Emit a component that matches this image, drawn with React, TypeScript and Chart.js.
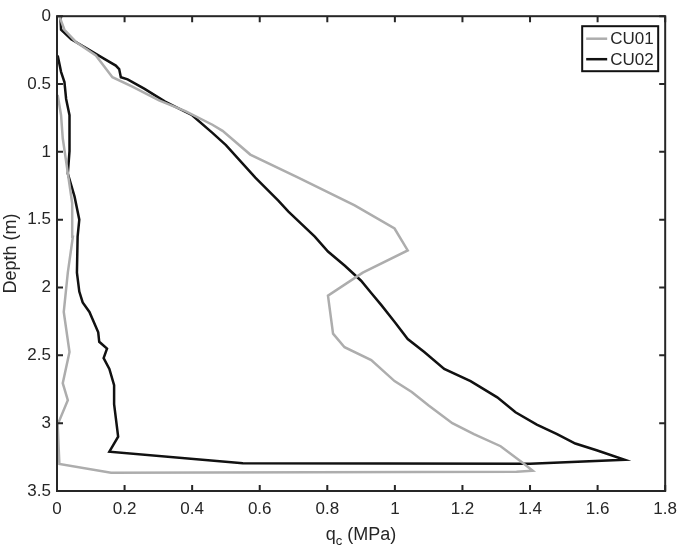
import { useEffect, useRef } from "react";
import { Chart, registerables } from "chart.js";

Chart.register(...registerables);

// ---- Data (q_c in MPa, depth in m), traced in path order ----
const cu01Qc = [
  0.007, 0.022, 0.056, 0.115, 0.164, 0.223, 0.302, 0.38, 0.46, 0.49, 0.572, 0.714, 0.881, 0.999, 1.038,
  0.905, 0.802, 0.817, 0.851, 0.93, 0.999, 1.05, 1.1, 1.17, 1.234, 1.313, 1.377, 1.408, 1.36, 0.16,
  0.007, 0.002, 0.032, 0.017, 0.037, 0.02, 0.032, 0.047, 0.045, 0.027, 0.017, 0.012, 0.002,
];
const cu01Depth = [
  0.0, 0.1, 0.19, 0.29, 0.45, 0.52, 0.62, 0.7, 0.8, 0.845, 1.02, 1.19, 1.395, 1.565, 1.727,
  1.89, 2.06, 2.34, 2.44, 2.535, 2.69, 2.77, 2.87, 3.0, 3.08, 3.17, 3.29, 3.35, 3.358, 3.365,
  3.3, 3.01, 2.83, 2.705, 2.475, 2.18, 1.89, 1.625, 1.38, 1.07, 0.9, 0.73, 0.58,
];
const cu02Qc = [
  0.01, 0.012, 0.042, 0.09, 0.14, 0.174, 0.184, 0.189, 0.209, 0.258, 0.32, 0.4, 0.46, 0.5, 0.587,
  0.655, 0.685, 0.763, 0.802, 0.852, 0.9, 0.93, 0.96, 1.0, 1.038, 1.087, 1.146, 1.224, 1.303, 1.357,
  1.42, 1.48, 1.534, 1.597, 1.68, 1.4, 0.55, 0.155, 0.181, 0.169, 0.169, 0.155, 0.138, 0.148, 0.125,
  0.122, 0.096, 0.076, 0.066, 0.059, 0.061, 0.066, 0.052, 0.032, 0.037, 0.037, 0.027, 0.022, 0.012, 0.002,
];
const cu02Depth = [
  0.0, 0.1, 0.17, 0.24, 0.315, 0.364, 0.39, 0.45, 0.466, 0.534, 0.63, 0.73, 0.86, 0.95, 1.19,
  1.36, 1.44, 1.625, 1.735, 1.84, 1.95, 2.04, 2.13, 2.256, 2.38, 2.475, 2.6, 2.69, 2.81, 2.92,
  3.01, 3.08, 3.15, 3.2, 3.27, 3.3, 3.295, 3.21, 3.1, 2.86, 2.72, 2.6, 2.52, 2.45, 2.4,
  2.33, 2.18, 2.11, 2.03, 1.89, 1.625, 1.5, 1.33, 1.16, 0.995, 0.73, 0.61, 0.485, 0.41, 0.29,
];

const seriesLabels = ["CU01", "CU02"];
const seriesColors = ["#adadad", "#111111"];
const xTicks = [0, 0.2, 0.4, 0.6, 0.8, 1, 1.2, 1.4, 1.6, 1.8];
const yTicks = [0, 0.5, 1, 1.5, 2, 2.5, 3, 3.5];
const yTitle = "Depth (m)";
const xTitleMain = "q";
const xTitleSub = "c";
const xTitleRest = " (MPa)";

const FONT = "'Liberation Sans', Arial, Helvetica, sans-serif";
const AXIS = "#262626";

const toPoints = (xs: number[], ys: number[]) => xs.map((x, i) => ({ x, y: ys[i] }));

const framePlugin = {
  id: "matlabFrame",
  afterDraw(chart: any) {
    const { ctx, chartArea } = chart;
    const { left, right, top, bottom } = chartArea;
    const xs = chart.scales.x;
    const ys = chart.scales.y;
    ctx.save();
    ctx.strokeStyle = AXIS;
    ctx.lineWidth = 2;
    ctx.strokeRect(left, top, right - left, bottom - top);
    ctx.beginPath();
    xs.ticks.forEach((t: any) => {
      const px = xs.getPixelForValue(t.value);
      ctx.moveTo(px, bottom);
      ctx.lineTo(px, bottom - 6);
      ctx.moveTo(px, top);
      ctx.lineTo(px, top + 6);
    });
    ys.ticks.forEach((t: any) => {
      const py = ys.getPixelForValue(t.value);
      ctx.moveTo(left, py);
      ctx.lineTo(left + 6, py);
      ctx.moveTo(right, py);
      ctx.lineTo(right - 6, py);
    });
    ctx.stroke();

    // x-axis title with subscript
    ctx.fillStyle = AXIS;
    ctx.textBaseline = "alphabetic";
    ctx.textAlign = "left";
    const mainFont = `18px ${FONT}`;
    const subFont = `13px ${FONT}`;
    ctx.font = mainFont;
    const w1 = ctx.measureText(xTitleMain).width;
    const w3 = ctx.measureText(xTitleRest).width;
    ctx.font = subFont;
    const w2 = ctx.measureText(xTitleSub).width;
    const total = w1 + w2 + w3;
    let tx = (left + right) / 2 - total / 2;
    const baseY = 540;
    ctx.font = mainFont;
    ctx.fillText(xTitleMain, tx, baseY);
    tx += w1;
    ctx.font = subFont;
    ctx.fillText(xTitleSub, tx, baseY + 5);
    tx += w2;
    ctx.font = mainFont;
    ctx.fillText(xTitleRest, tx, baseY);

    // legend box
    const bw = 76;
    const bh = 45;
    const bx = right - 7 - bw;
    const by = top + 10;
    ctx.fillStyle = "#ffffff";
    ctx.fillRect(bx, by, bw, bh);
    ctx.strokeStyle = "#111111";
    ctx.lineWidth = 2;
    ctx.strokeRect(bx, by, bw, bh);
    ctx.font = `17px ${FONT}`;
    ctx.textBaseline = "middle";
    chart.data.datasets.forEach((ds: any, i: number) => {
      const ly = by + 12.5 + i * 20.5;
      ctx.strokeStyle = ds.borderColor;
      ctx.lineWidth = 2.5;
      ctx.beginPath();
      ctx.moveTo(bx + 4, ly);
      ctx.lineTo(bx + 25, ly);
      ctx.stroke();
      ctx.fillStyle = AXIS;
      ctx.fillText(ds.label, bx + 28, ly + 1);
    });
    ctx.restore();
  },
};

export default function App() {
  const ref = useRef<HTMLCanvasElement | null>(null);
  useEffect(() => {
    if (!ref.current) return;
    const chart = new Chart(ref.current, {
      type: "scatter",
      data: {
        datasets: [
          {
            label: seriesLabels[0],
            data: toPoints(cu01Qc, cu01Depth),
            showLine: true,
            borderColor: seriesColors[0],
            backgroundColor: seriesColors[0],
            borderWidth: 2.5,
            pointRadius: 0,
            tension: 0,
          },
          {
            label: seriesLabels[1],
            data: toPoints(cu02Qc, cu02Depth),
            showLine: true,
            borderColor: seriesColors[1],
            backgroundColor: seriesColors[1],
            borderWidth: 2.5,
            pointRadius: 0,
            tension: 0,
          },
        ],
      },
      options: {
        responsive: false,
        animation: false,
        devicePixelRatio: 1,
        layout: { padding: { top: 10, right: 16, left: 0, bottom: 0 } },
        plugins: { legend: { display: false }, tooltip: { enabled: false } },
        scales: {
          x: {
            type: "linear",
            min: 0,
            max: 1.8,
            grid: { display: false, drawTicks: false },
            border: { display: false },
            afterBuildTicks: (s: any) => {
              s.ticks = xTicks.map((v) => ({ value: v }));
            },
            afterFit: (s: any) => {
              s.height = 58;
            },
            ticks: {
              padding: 8,
              color: AXIS,
              font: { family: FONT, size: 17 },
              maxRotation: 0,
              callback: (v: any) => String(Number(Number(v).toFixed(1))),
            },
          },
          y: {
            type: "linear",
            reverse: true,
            min: 0,
            max: 3.5,
            grid: { display: false, drawTicks: false },
            border: { display: false },
            afterBuildTicks: (s: any) => {
              s.ticks = yTicks.map((v) => ({ value: v }));
            },
            afterFit: (s: any) => {
              s.width = 57;
            },
            ticks: {
              padding: 6,
              color: AXIS,
              font: { family: FONT, size: 17 },
              callback: (v: any) => String(Number(Number(v).toFixed(1))),
            },
            title: {
              display: true,
              text: yTitle,
              color: AXIS,
              font: { family: FONT, size: 18 },
              padding: 0,
            },
          },
        },
      },
      plugins: [framePlugin],
    });
    return () => chart.destroy();
  }, []);
  return (
    <div style={{ position: "fixed", left: 0, top: 0, width: 685, height: 549, background: "#fff" }}>
      <canvas ref={ref} width={685} height={549} style={{ width: 685, height: 549, display: "block" }} />
    </div>
  );
}
